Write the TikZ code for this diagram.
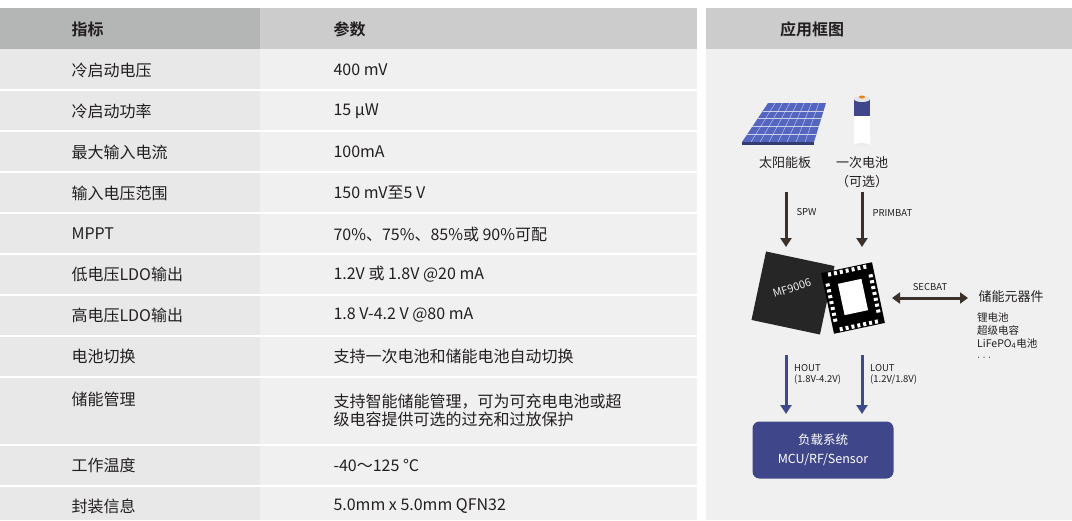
\documentclass[tikz,border=0pt]{standalone}
\usepackage{fontspec}
\setmainfont{Noto Sans CJK SC}
\newfontfamily\cjkb{Noto Sans CJK SC Bold}
\usetikzlibrary{arrows.meta,calc}
\definecolor{hdrL}{HTML}{B4B5B5}
\definecolor{hdrR}{HTML}{CCCCCC}
\definecolor{colL}{HTML}{E8E8E8}
\definecolor{colR}{HTML}{F0F0F0}
\definecolor{txt}{HTML}{231F20}
\definecolor{brownarr}{HTML}{3B302A}
\definecolor{bluearr}{HTML}{3F4A8C}
\definecolor{boxblue}{HTML}{3F478A}
\definecolor{panel}{HTML}{5566C0}
\begin{document}
\begin{tikzpicture}[x=1pt,y=-1pt,
  cell/.style={anchor=west,text=txt,font=\fontsize{16}{18}\selectfont},
  hdr/.style={anchor=west,text=txt,font=\cjkb\fontsize{16}{18}\selectfont},
  lbl/.style={text=txt,font=\fontsize{13}{15}\selectfont},
  small/.style={text=txt,font=\fontsize{9.5}{11}\selectfont,align=left},
  barr/.style={draw=brownarr,line width=3pt,-{Triangle[length=9pt,width=11pt]}},
  uarr/.style={draw=bluearr,line width=3pt,-{Triangle[length=9pt,width=11pt]}}]
\useasboundingbox (0,0) rectangle (1072,520);
\fill[white] (0,0) rectangle (1072,520);
% table background
\fill[hdrL] (0,8) rectangle (260,49);
\fill[hdrR] (260,8) rectangle (697,49);
\fill[colL] (0,49) rectangle (260,520);
\fill[colR] (260,49) rectangle (697,520);
\foreach \y in {90,131,172,213,254,295,336,377,445,486}
  \draw[white,line width=1.5pt] (0,\y) -- (697,\y);
\node[hdr] (h1) at (68,29) {指标};
\node[hdr] (h2) at (330,29) {参数};
\node[cell] (a1) at (68,70) {冷启动电压};       \node[cell] (b1) at (330,70) {400 mV};
\node[cell] (a2) at (68,111) {冷启动功率};      \node[cell] (b2) at (330,111) {15 µW};
\node[cell] (a3) at (68,152) {最大输入电流};    \node[cell] (b3) at (330,152) {100mA};
\node[cell] (a4) at (68,193) {输入电压范围};    \node[cell] (b4) at (330,193) {150 mV至5 V};
\node[cell] (a5) at (68,234) {MPPT};            \node[cell] (b5) at (330,234) {70\%、75\%、85\%或 90\%可配};
\node[cell] (a6) at (68,274) {低电压LDO输出};   \node[cell] (b6) at (330,274) {1.2V 或 1.8V @20 mA};
\node[cell] (a7) at (68,315) {高电压LDO输出};   \node[cell] (b7) at (330,315) {1.8 V-4.2 V @80 mA};
\node[cell] (a8) at (68,356) {电池切换};        \node[cell] (b8) at (330,356) {支持一次电池和储能电池自动切换};
\node[cell] (a9) at (68,399) {储能管理};
\node[cell,align=left] (b9) at (330,410) {支持智能储能管理，可为可充电电池或超\\级电容提供可选的过充和过放保护};
\node[cell] (a10) at (68,465) {工作温度};       \node[cell] (b10) at (330,465) {-40～125 °C};
\node[cell] (a11) at (68,506) {封装信息};       \node[cell] (b11) at (330,506) {5.0mm x 5.0mm QFN32};
% right panel
\fill[hdrR] (706,8) rectangle (1072,49);
\fill[colR] (706,49) rectangle (1072,520);
\node[hdr,anchor=center] (rh) at (812,29) {应用框图};
% solar panel
\fill[panel] (768,103) -- (826,103) -- (814,142) -- (742,142) -- cycle;
\foreach \t in {0.125,0.25,...,0.875}
  \draw[white!70!panel,line width=0.4pt] ($(768,103)!\t!(826,103)$) -- ($(742,142)!\t!(814,142)$);
\foreach \t in {0.2,0.4,0.6,0.8}
  \draw[white!70!panel,line width=0.4pt] ($(768,103)!\t!(742,142)$) -- ($(826,103)!\t!(814,142)$);
\fill[panel!60!black] (742,142) -- (814,142) -- (814,145) -- (742,145) -- cycle;
\node[inner sep=0] (solar) at (785,124) {};
% battery
\fill[white] (854,106) rectangle (870,146);
\fill[white!85!gray] (854,146) arc(180:360:8 and 3) -- (870,146) -- cycle;
\fill[boxblue] (854,99) rectangle (870,116);
\fill[white] (854,116) -- (870,116) -- (870,122) -- (854,116) -- cycle;
\fill[white!80!gray] (862,99) ellipse (8 and 3);
\fill[orange!70!brown] (862,97) ellipse (3 and 1.5);
\node[inner sep=0] (batt) at (862,122) {};
\node[lbl] (solarlbl) at (785,163) {太阳能板};
\node[lbl] (battlbl) at (862,163) {一次电池};
\node[lbl] (opt) at (862,182) {（可选）};
% chips
\node[fill=black!85,minimum width=70pt,minimum height=70pt,rotate=-12,inner sep=0] (chip) at (793,293) {};
\node[text=white!85!gray,rotate=18,font=\fontsize{11}{12}\selectfont] (chiplbl) at (792,288) {MF9006};
\node[fill=black,minimum width=52pt,minimum height=62pt,rotate=12,inner sep=0] (qfn) at (853,298) {};
\node[fill=white,minimum width=24pt,minimum height=32pt,rotate=12,inner sep=0] (pad) at (853,297) {};
\foreach \i in {-3,...,3}{
  \fill[white,rotate around={12:(853,298)}] (853+6*\i-1.5,268) rectangle (853+6*\i+1.5,272);
  \fill[white,rotate around={12:(853,298)}] (853+6*\i-1.5,324) rectangle (853+6*\i+1.5,328);
  \fill[white,rotate around={12:(853,298)}] (829,298+6*\i-1.5) rectangle (833,298+6*\i+1.5);
  \fill[white,rotate around={12:(853,298)}] (873,298+6*\i-1.5) rectangle (877,298+6*\i+1.5);}
% arrows in
\coordinate (spwS) at (786,192); \coordinate (spwE) at (786,247);
\coordinate (priS) at (862,192); \coordinate (priE) at (862,247);
\draw[barr] (spwS) -- (spwE);
\draw[barr] (priS) -- (priE);
\node[small,anchor=west] (spw) at (793,212) {SPW};
\node[small,anchor=west] (prim) at (869,213) {PRIMBAT};
% secbat
\coordinate (secS) at (892,298); \coordinate (secE) at (968,298);
\draw[draw=brownarr,line width=3pt,{Triangle[length=8pt,width=11pt]}-{Triangle[length=8pt,width=11pt]}] (secS) -- (secE);
\node[small] (sec) at (930,287) {SECBAT};
\node[lbl,anchor=west] (stor) at (975,297) {储能元器件};
\node[small,anchor=north west,font=\fontsize{10.5}{13}\selectfont,inner sep=0] (list) at (977,312) {锂电池\\超级电容\\LiFePO\textsubscript{4}电池\\ $\cdot\cdot\cdot$};
% out arrows
\coordinate (hS) at (786,355); \coordinate (hE) at (786,414);
\coordinate (lS) at (862,355); \coordinate (lE) at (862,414);
\draw[uarr] (hS) -- (hE);
\draw[uarr] (lS) -- (lE);
\node[small,anchor=north west,inner sep=0] (hout) at (794,364) {HOUT\\(1.8V-4.2V)};
\node[small,anchor=north west,inner sep=0] (lout) at (870,364) {LOUT\\(1.2V/1.8V)};
\node[fill=boxblue,rounded corners=7pt,minimum width=141pt,minimum height=57pt,text=white,align=center,font=\fontsize{12.5}{19}\selectfont] (load) at (823,450) {负载系统\\MCU/RF/Sensor};
\end{tikzpicture}
\end{document}
